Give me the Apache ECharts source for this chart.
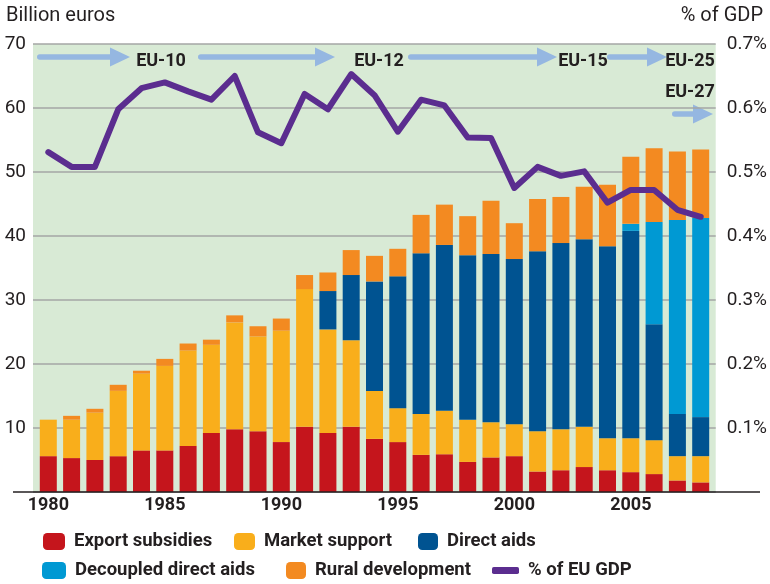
<!DOCTYPE html>
<html>
<head>
<meta charset="utf-8">
<script src="https://cdn.jsdelivr.net/npm/echarts@6/dist/echarts.min.js"></script>
<style>
  html, body { margin: 0; padding: 0; background: #ffffff; }
  #chart { width: 770px; height: 584px; }
</style>
</head>
<body>
<div id="chart"></div>
<script>
// CAP spending by type (billion euros) and total as a share of EU GDP
const years = ['1980','1981','1982','1983','1984','1985','1986','1987','1988','1989',
               '1990','1991','1992','1993','1994','1995','1996','1997','1998','1999',
               '2000','2001','2002','2003','2004','2005','2006','2007','2008'];
const exportSubsidies  = [5.6, 5.3, 5.0, 5.6, 6.5, 6.5, 7.2, 9.2, 9.8, 9.5,
                          7.8, 10.2, 9.2, 10.2, 8.3, 7.8, 5.8, 5.9, 4.7, 5.4,
                          5.6, 3.2, 3.4, 3.9, 3.4, 3.1, 2.8, 1.8, 1.5];
const marketSupport    = [5.7, 6.0, 7.4, 10.2, 12.0, 13.2, 14.9, 13.8, 16.7, 14.8,
                          17.4, 21.5, 16.2, 13.5, 7.5, 5.3, 6.4, 6.8, 6.6, 5.5,
                          5.0, 6.3, 6.4, 6.3, 5.0, 5.3, 5.3, 3.8, 4.1];
const directAids       = [0, 0, 0, 0, 0, 0, 0, 0, 0, 0,
                          0, 0, 6.0, 10.2, 17.1, 20.6, 25.1, 25.9, 25.7, 26.3,
                          25.8, 28.1, 29.1, 29.3, 30.0, 32.4, 18.1, 6.6, 6.1];
const decoupledAids    = [0, 0, 0, 0, 0, 0, 0, 0, 0, 0,
                          0, 0, 0, 0, 0, 0, 0, 0, 0, 0,
                          0, 0, 0, 0, 0, 1.1, 16.0, 30.3, 31.1];
const ruralDevelopment = [0, 0.6, 0.6, 0.95, 0.45, 1.1, 1.1, 0.8, 1.1, 1.6,
                          1.9, 2.2, 2.9, 3.9, 4.0, 4.3, 6.0, 6.3, 6.1, 8.3,
                          5.6, 8.2, 7.2, 8.2, 9.6, 10.5, 11.5, 10.7, 10.7];
const gdpShare         = [0.531, 0.508, 0.508, 0.598, 0.631, 0.640, 0.626, 0.613, 0.650, 0.562,
                          0.545, 0.622, 0.598, 0.653, 0.620, 0.563, 0.613, 0.604, 0.554, 0.553,
                          0.475, 0.508, 0.494, 0.501, 0.452, 0.472, 0.472, 0.441, 0.430];
const yearTicks = ['1980','1985','1990','1995','2000','2005'];
const enlargements = ['EU-10', 'EU-12', 'EU-15', 'EU-25', 'EU-27'];

const FONT = 'Roboto, "DejaVu Sans Condensed", sans-serif';
const INK = '#231f20';
const COLORS = {
  exp: '#c5151c', mkt: '#f9ae1b', dir: '#005391', dec: '#0099d3', rur: '#f38a21', gdp: '#5b2d8f'
};
const ARROW = '#95b7e1';

const chart = echarts.init(document.getElementById('chart'), null, { renderer: 'canvas' });

function barSeries(name, data, color) {
  return {
    name, type: 'bar', data, stack: 'total', barWidth: 17,
    xAxisIndex: 1, yAxisIndex: 2,
    itemStyle: { color },
    emphasis: { disabled: true }
  };
}

// Enlargement arrows: shaft with rounded tail plus triangular head
function arrow(x0, x1, y) {
  return {
    type: 'group', silent: true,
    children: [
      { type: 'rect', shape: { x: x0, y: y - 2.8, width: x1 - x0 - 16, height: 5.6, r: 2.8 }, style: { fill: ARROW } },
      { type: 'polygon', shape: { points: [[x1 - 20, y - 9.5], [x1, y], [x1 - 20, y + 9.5]] }, style: { fill: ARROW } }
    ]
  };
}
function label(text, cx, cy) {
  return {
    type: 'text', x: cx, y: cy, silent: true,
    style: { text, fill: INK, font: 'bold 18px ' + FONT, align: 'center', verticalAlign: 'middle' }
  };
}

function legendAt(name, left, centerY, w, h, icon) {
  const item = icon ? { name, icon } : { name };
  return {
    data: [item], left, top: centerY - 11, padding: 0,
    itemWidth: w, itemHeight: h, selectedMode: false,
    textStyle: { color: INK, fontFamily: FONT, fontWeight: 'bold', fontSize: 18.5, lineHeight: 22, padding: [0, 0, 0, 4] }
  };
}

const option = {
  animation: false,
  grid: [
    // backdrop grid: green panel, gridlines and value labels
    { left: 33, right: 53, top: 44, bottom: 92, show: true, backgroundColor: '#d8ead5', borderWidth: 0 },
    // data grid
    { left: 36.65, right: 57.65, top: 44, bottom: 92 }
  ],
  xAxis: [
    { type: 'value', gridIndex: 0, min: 0, max: 1, show: false },
    {
      type: 'category', gridIndex: 1, data: years,
      axisLine: { show: false }, axisTick: { show: false },
      axisLabel: {
        interval: 0, margin: 4,
        formatter: v => (yearTicks.indexOf(v) >= 0 ? v : ''),
        color: INK, fontFamily: FONT, fontWeight: 'bold', fontSize: 18
      }
    }
  ],
  yAxis: [
    {
      type: 'value', gridIndex: 0, min: 0, max: 70, interval: 10, position: 'left',
      axisLine: { show: false }, axisTick: { show: false },
      splitLine: { lineStyle: { color: '#a4a6a4', width: 1.5 } },
      axisLabel: { margin: 7, formatter: v => (v === 0 ? '' : String(v)), color: INK, fontFamily: FONT, fontSize: 19 }
    },
    {
      type: 'value', gridIndex: 0, min: 0, max: 0.7, interval: 0.1, position: 'right',
      axisLine: { show: false }, axisTick: { show: false }, splitLine: { show: false },
      axisLabel: { margin: 11, formatter: v => (v === 0 ? '' : v.toFixed(1) + '%'), color: INK, fontFamily: FONT, fontSize: 19 }
    },
    { type: 'value', gridIndex: 1, min: 0, max: 70, show: false, splitLine: { show: false } },
    { type: 'value', gridIndex: 1, min: 0, max: 0.7, show: false, splitLine: { show: false } }
  ],
  legend: [
    legendAt('Export subsidies', 43, 541.5, 22, 17),
    legendAt('Market support', 234, 541.5, 21, 17),
    legendAt('Direct aids', 418, 541.5, 20, 17),
    legendAt('Decoupled direct aids', 42, 570.5, 24, 17),
    legendAt('Rural development', 286, 570.5, 20, 17),
    legendAt('% of EU GDP', 492, 570.5, 27, 7, 'roundRect')
  ],
  series: [
    barSeries('Export subsidies', exportSubsidies, COLORS.exp),
    barSeries('Market support', marketSupport, COLORS.mkt),
    barSeries('Direct aids', directAids, COLORS.dir),
    barSeries('Decoupled direct aids', decoupledAids, COLORS.dec),
    barSeries('Rural development', ruralDevelopment, COLORS.rur),
    {
      name: '% of EU GDP', type: 'line', data: gdpShare, z: 4,
      xAxisIndex: 1, yAxisIndex: 3,
      symbol: 'none', itemStyle: { color: COLORS.gdp },
      lineStyle: { color: COLORS.gdp, width: 6, join: 'round', cap: 'round' },
      emphasis: { disabled: true }
    }
  ],
  graphic: [
    { type: 'text', left: 6, top: 6, silent: true,
      style: { text: 'Billion euros', fill: INK, font: '20px ' + FONT } },
    { type: 'text', right: 7, top: 6, silent: true,
      style: { text: '% of GDP', fill: INK, font: '20px ' + FONT } },
    { type: 'line', silent: true, shape: { x1: 13, y1: 492, x2: 760, y2: 492 },
      style: { stroke: INK, lineWidth: 1.5 }, z: 10 },
    arrow(37, 130, 57), label(enlargements[0], 161, 61),
    arrow(198, 335, 57), label(enlargements[1], 379, 61),
    arrow(408, 557, 57), label(enlargements[2], 583, 61),
    arrow(607, 667, 57), label(enlargements[3], 690, 61),
    label(enlargements[4], 690, 92),
    arrow(672, 713, 114)
  ]
};

chart.setOption(option);
</script>
</body>
</html>
